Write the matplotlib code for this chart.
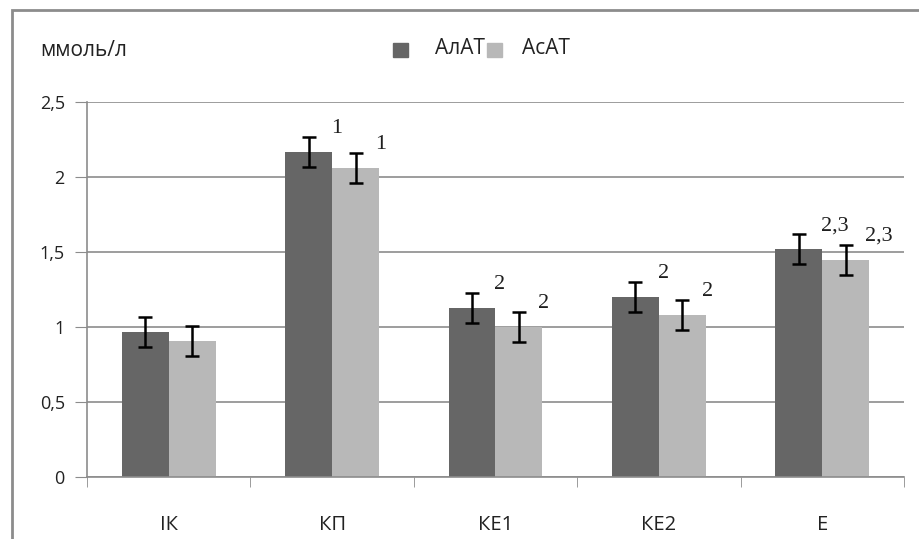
import numpy as np
import matplotlib.pyplot as plt
from matplotlib.patches import Rectangle

groups = ['ІК', 'КП', 'КЕ1', 'КЕ2', 'Е']
alat = [0.97, 2.17, 1.13, 1.20, 1.52]
asat = [0.91, 2.06, 1.00, 1.08, 1.45]
alat_err = [0.10, 0.10, 0.10, 0.10, 0.10]
asat_err = [0.10, 0.10, 0.10, 0.10, 0.10]
alat_marks = ['', '1', '2', '2', '2,3']
asat_marks = ['', '1', '2', '2', '2,3']

plt.rcParams['font.family'] = ['Open Sans', 'DejaVu Sans']

fig = plt.figure(figsize=(9.2, 5.39), dpi=100)
ax = fig.add_axes([87/920, 62/539, 817/920, 375/539])

# outer frame of the chart area
fig.patches.append(Rectangle((12/920, -0.1), 1.2, 1 - 10/539 + 0.1,
                             transform=fig.transFigure, fill=False,
                             edgecolor='#8c8c8c', linewidth=2, zorder=0))

x = np.arange(len(groups))
w = 0.287
dark = '#666666'
light = '#b8b8b8'
ax.bar(x - w/2, alat, w, color=dark, zorder=2)
ax.bar(x + w/2, asat, w, color=light, zorder=2)
ax.errorbar(x - w/2, alat, yerr=alat_err, fmt='none', ecolor='black',
            elinewidth=1.8, capsize=5, capthick=1.8, zorder=3)
ax.errorbar(x + w/2, asat, yerr=asat_err, fmt='none', ecolor='black',
            elinewidth=1.8, capsize=5, capthick=1.8, zorder=3)

# significance marks over the bars
for i in range(len(groups)):
    if alat_marks[i]:
        ax.annotate(alat_marks[i], (x[i], alat[i] + alat_err[i]),
                    xytext=(-1, 6), textcoords='offset points',
                    ha='left', va='center', fontsize=16, color='#1f1f1f',
                    family='Liberation Serif')
    if asat_marks[i]:
        ax.annotate(asat_marks[i], (x[i] + w, asat[i] + asat_err[i]),
                    xytext=(-3, 6), textcoords='offset points',
                    ha='left', va='center', fontsize=16, color='#1f1f1f',
                    family='Liberation Serif')

ax.set_xlim(-0.5, len(groups) - 0.5)
ax.set_ylim(0, 2.5)
ax.set_yticks(np.arange(0, 2.51, 0.5))
ax.set_yticklabels([f'{v:g}'.replace('.', ',') for v in np.arange(0, 2.51, 0.5)],
                   fontsize=13, color='#222222')
ax.set_xticks(x)
ax.set_xticklabels(groups, fontsize=14.5, color='#222222')
ax.set_xticks(np.arange(-0.5, len(groups)), minor=True)
ax.tick_params(axis='x', which='major', length=0, pad=27)
ax.tick_params(axis='x', which='minor', length=7, color='#8c8c8c')
ax.tick_params(axis='y', length=9, color='#8c8c8c', pad=7)

ax.grid(axis='y', color='#8c8c8c', linewidth=1.2, zorder=0)
ax.set_axisbelow(True)
for s in ['top', 'right']:
    ax.spines[s].set_visible(False)
for s in ['left', 'bottom']:
    ax.spines[s].set_color('#8c8c8c')
    ax.spines[s].set_linewidth(1.2)

fig.text(40/920, 1 - 50/539, 'ммоль/л', fontsize=15, va='center', color='#222222')

# legend
fig.patches.append(Rectangle((393/920, 1 - 57/539), 15/920, 14/539,
                             transform=fig.transFigure, color=dark))
fig.text(435/920, 1 - 48/539, 'АлАТ', fontsize=15, va='center', color='#222222')
fig.patches.append(Rectangle((487/920, 1 - 57/539), 15/920, 14/539,
                             transform=fig.transFigure, color=light))
fig.text(522/920, 1 - 48/539, 'АсАТ', fontsize=15, va='center', color='#222222')

fig.savefig('out.png', dpi=100)
